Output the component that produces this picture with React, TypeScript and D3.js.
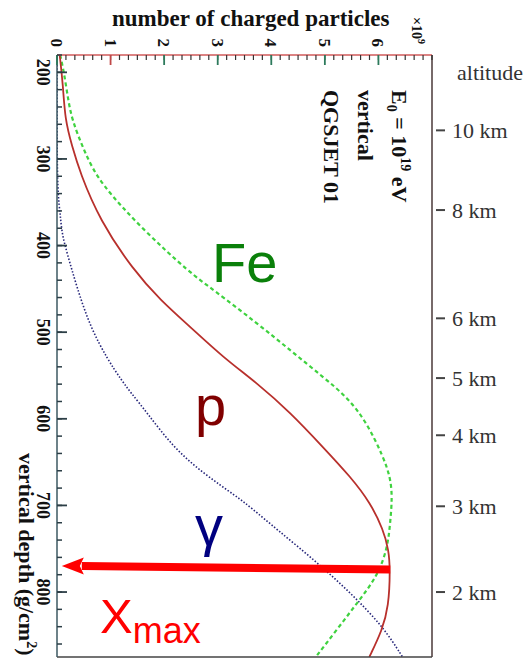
import React from 'react';
import * as d3 from 'd3';

// Longitudinal shower profiles: charged particles vs vertical depth (10^19 eV, vertical)
const feDepth = [180, 200, 232, 255, 293, 328, 382, 432, 451, 490, 521, 552, 575, 605, 644, 667, 690, 720, 749, 782, 812, 843, 875];
const feCount = [0.06, 0.13, 0.21, 0.28, 0.52, 0.8, 1.61, 2.49, 2.92, 3.74, 4.36, 4.97, 5.42, 5.79, 6.09, 6.22, 6.26, 6.22, 6.17, 5.98, 5.61, 5.23, 4.83];

const pDepth = [180, 213, 255, 285, 316, 371, 428, 463, 494, 529, 559, 593, 633, 667, 697, 728, 751, 774, 817, 844, 875];
const pCount = [0.05, 0.11, 0.15, 0.28, 0.43, 0.8, 1.42, 1.93, 2.49, 3.1, 3.74, 4.36, 4.97, 5.48, 5.85, 6.09, 6.19, 6.22, 6.19, 6.07, 5.83];

const gammaDepth = [180, 300, 344, 363, 386, 409, 448, 494, 532, 555, 570, 593, 633, 663, 690, 702, 728, 766, 801, 840, 875];
const gammaCount = [0, 0, 0.02, 0.06, 0.09, 0.19, 0.37, 0.62, 0.95, 1.2, 1.38, 1.68, 2.17, 2.73, 3.36, 3.61, 4.11, 4.86, 5.48, 6.09, 6.45];

const depthTicks = [200, 300, 400, 500, 600, 700, 800];
const countTicks = [0, 1, 2, 3, 4, 5, 6];
const altitudeLabels = ['10 km', '8 km', '6 km', '5 km', '4 km', '3 km', '2 km'];
const altitudeDepths = [267, 359, 484, 553, 619, 701, 800];

const xmaxDepth = 774;
const arrowTipDepth = 770;
const arrowTipCount = 0.09;

const serif = '"Liberation Serif", "Times New Roman", serif';
const sans = '"Liberation Sans", Arial, sans-serif';

export default function App() {
  const left = 57, right = 432, top = 55, bottom = 657;
  const x = d3.scaleLinear().domain([0, 7]).range([left, right]);
  const y = d3.scaleLinear().domain([180, 875]).range([top, bottom]);

  const line = d3.line<[number, number]>()
    .x(d => x(d[1]))
    .y(d => y(d[0]))
    .curve(d3.curveBasis);

  const zip = (a: number[], b: number[]) => a.map((v, i) => [v, b[i]] as [number, number]);

  const minorCount = d3.range(0, 7.0001, 1 / 6);
  const minorDepth = d3.range(180, 875, 20);

  const pMaxIdx = d3.maxIndex(pCount);
  const arrowX1 = x(pCount[pMaxIdx]);
  const arrowY1 = y(xmaxDepth);
  const arrowX0 = x(arrowTipCount);
  const arrowY0 = y(arrowTipDepth);
  const headLen = 22;
  const headHalf = 8.5;

  return (
    <svg width={530} height={668} style={{ position: 'absolute', left: 0, top: 0, background: '#fff' }}>
      <defs>
        <clipPath id="frame">
          <rect x={left} y={top} width={right - left} height={bottom - top} />
        </clipPath>
      </defs>

      {/* curves */}
      <g clipPath="url(#frame)" fill="none">
        <path d={line(zip(gammaDepth, gammaCount)) || ''} stroke="#26267a" strokeWidth={1.6} strokeDasharray="1.5 1.8" />
        <path d={line(zip(feDepth, feCount)) || ''} stroke="#3fd23f" strokeWidth={2.2} strokeDasharray="4 3" />
        <path d={line(zip(pDepth, pCount)) || ''} stroke="#b8302c" strokeWidth={1.8} />
      </g>

      {/* frame */}
      <line x1={left} x2={right} y1={top} y2={top} stroke="#d05a5a" strokeWidth={1.3} />
      <line x1={right} x2={right} y1={top} y2={bottom} stroke="#4a3838" strokeWidth={1.5} />
      <line x1={left} x2={right} y1={bottom} y2={bottom} stroke="#444" strokeWidth={1.5} />
      <line x1={left} x2={left} y1={top} y2={bottom} stroke="#3c5862" strokeWidth={1.5} />

      {/* top axis ticks */}
      {minorCount.map((v, i) => (
        <line key={'tm' + i} x1={x(v)} x2={x(v)} y1={top} y2={top + 5} stroke="#333" strokeWidth={1.2} />
      ))}
      {countTicks.map(v => (
        <line key={'tM' + v} x1={x(v)} x2={x(v)} y1={top} y2={top + 10} stroke={v === 1 ? '#c04848' : '#2d7a5c'} strokeWidth={1.8} />
      ))}
      {countTicks.map(v => (
        <text key={'tl' + v} transform={`translate(${x(v)},47) rotate(90)`} textAnchor="end" dy="0.35em"
          fontFamily={serif} fontWeight="bold" fontSize={17} fill="#111">{v}</text>
      ))}
      <text transform="translate(412,17) rotate(90)" fontFamily={serif} fontWeight="bold" fontSize={14} fill="#111">
        ×10<tspan dy={-6} fontSize={10}>9</tspan>
      </text>
      <text x={112} y={26} fontFamily={serif} fontWeight="bold" fontSize={23} fill="#111">number of charged particles</text>

      {/* left axis ticks */}
      {minorDepth.map((v, i) => (
        <line key={'lm' + i} x1={left} x2={left + 5} y1={y(v)} y2={y(v)} stroke="#2c3e46" strokeWidth={1.5} />
      ))}
      {depthTicks.map(v => (
        <line key={'lM' + v} x1={left} x2={left + 10} y1={y(v)} y2={y(v)} stroke="#2c3e46" strokeWidth={1.8} />
      ))}
      {depthTicks.map(v => (
        <text key={'ll' + v} transform={`translate(43,${y(v)}) rotate(90)`} textAnchor="middle" dy="0.35em"
          fontFamily={serif} fontWeight="bold" fontSize={18} fill="#111">{v}</text>
      ))}
      <text transform="translate(19,453) rotate(90)" fontFamily={serif} fontWeight="bold" fontSize={22} fill="#111">
        vertical depth (g/cm<tspan dy={-8} fontSize={14}>2</tspan><tspan dy={8}>)</tspan>
      </text>

      {/* run parameters */}
      <g fontFamily={serif} fontWeight="bold" fontSize={22} fill="#111">
        <text transform="translate(392,90) rotate(90)">
          E<tspan dy={5} fontSize={14}>0</tspan><tspan dy={-5}> = 10</tspan><tspan dy={-9} fontSize={14}>19</tspan><tspan dy={9}> eV</tspan>
        </text>
        <text transform="translate(358,90) rotate(90)">vertical</text>
        <text transform="translate(324,90) rotate(90)">QGSJET 01</text>
      </g>

      {/* altitude scale */}
      <text x={457} y={80} fontFamily={serif} fontSize={22} fill="#333">altitude</text>
      {altitudeDepths.map((d, i) => (
        <g key={'alt' + i}>
          <line x1={436} x2={445} y1={y(d)} y2={y(d)} stroke="#444" strokeWidth={2} />
          <text x={452} y={y(d) + 7.5} fontFamily={serif} fontSize={22} fill="#333">{altitudeLabels[i]}</text>
        </g>
      ))}

      {/* species labels */}
      <text x={212} y={282} fontFamily={sans} fontSize={56} fill="#0a800a">Fe</text>
      <text x={195} y={425} fontFamily={sans} fontSize={56} fill="#800000">p</text>
      <text x={195} y={545} fontFamily={sans} fontSize={56} fill="#000080">γ</text>

      {/* Xmax arrow */}
      <line x1={arrowX1} y1={arrowY1} x2={arrowX0 + headLen - 2} y2={arrowY0} stroke="#ff0000" strokeWidth={8} />
      <polygon
        points={`${arrowX0},${arrowY0} ${arrowX0 + headLen},${arrowY0 - headHalf} ${arrowX0 + headLen - 4},${arrowY0} ${arrowX0 + headLen},${arrowY0 + headHalf}`}
        fill="#ff0000" />
      <text x={100} y={633} fontFamily={sans} fontSize={49} fill="#ff0000">
        X<tspan dy={10} fontSize={36}>max</tspan>
      </text>
    </svg>
  );
}
